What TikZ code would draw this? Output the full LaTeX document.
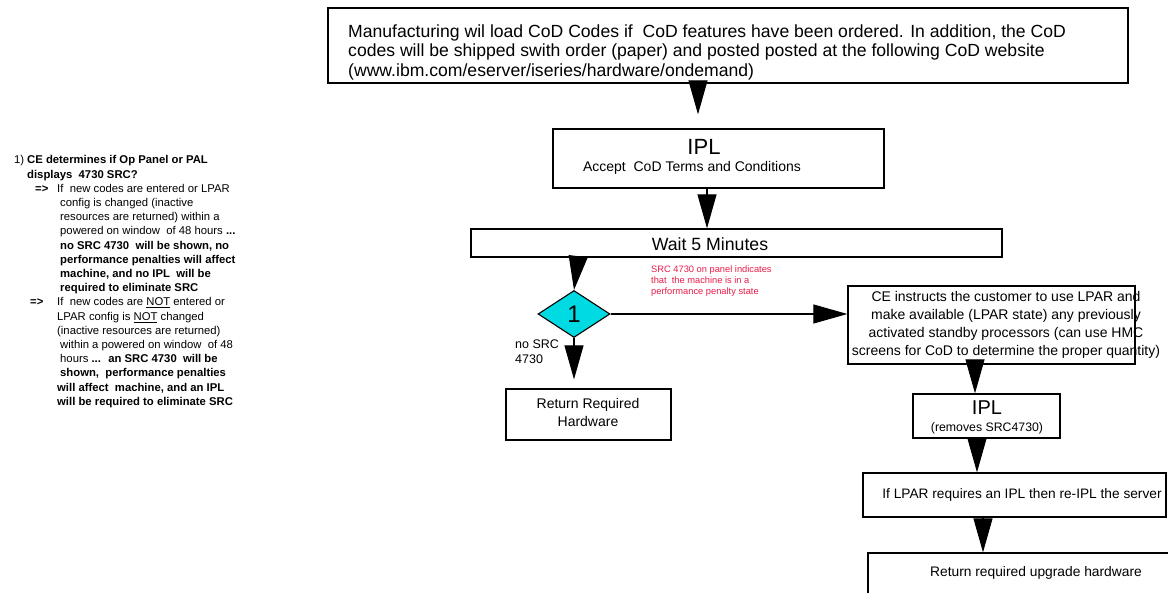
\documentclass[tikz,border=0pt]{standalone}
\usepackage{fontspec}
\setmainfont{Liberation Sans}
\usetikzlibrary{shapes.geometric,arrows.meta}
\definecolor{diafill}{RGB}{0,218,226}
\definecolor{notered}{RGB}{232,28,72}

\begin{document}
\begin{tikzpicture}[x=1pt,y=-1pt,
  box/.style={draw=black,line width=1.3pt,fill=white,inner sep=0pt},
  flow/.style={line width=1.1pt,-{Triangle[length=34pt,width=19pt]}},
  txt/.style={inner sep=0pt,font=#1},
  ltxt/.style={inner sep=0pt,anchor=base west,font=\fontsize{11.3}{13}\selectfont},
  ]
\useasboundingbox (0,0) rectangle (1168,593);
\clip (0,0) rectangle (1168,593);

% ---- boxes ----
\node[box,minimum width=800pt,minimum height=75pt] (top) at (728,45.5) {};
\node[box,minimum width=331pt,minimum height=59pt] (ipl1) at (718.5,158.5) {};
\node[box,minimum width=531pt,minimum height=28pt] (wait) at (736.5,243) {};
\node[draw=black,line width=1.1pt,fill=diafill,diamond,inner sep=0pt,
      minimum width=72pt,minimum height=47pt] (dia) at (574,314) {};
\node[box,minimum width=165pt,minimum height=51pt] (ret1) at (588.5,414.5) {};
\node[box,minimum width=287pt,minimum height=78pt] (ce) at (991.5,325) {};
\node[box,minimum width=147pt,minimum height=44pt] (ipl2) at (986.5,416) {};
\node[box,minimum width=303pt,minimum height=44pt] (lpar) at (1014.5,495) {};
\node[box,minimum width=332pt,minimum height=67pt] (ret2) at (1034,586.5) {};

% ---- box texts ----
\node[txt=\fontsize{17.6}{19.5}\selectfont,anchor=west,align=left] (toptext) at (348,52)
  {Manufacturing wil load CoD Codes if \ CoD features have been ordered. In addition, the CoD\\
   codes will be shipped swith order (paper) and posted posted at the following CoD website\\
   (www.ibm.com/eserver/iseries/hardware/ondemand)};
\node[txt=\fontsize{22}{25}\selectfont] (ipltitle) at (704,147) {IPL};
\node[txt=\fontsize{14}{16}\selectfont] (iplsub) at (692,168) {Accept \ CoD Terms and Conditions};
\node[txt=\fontsize{17.7}{20}\selectfont] (waittext) at (710,244) {Wait 5 Minutes};
\node[txt=\fontsize{24}{27}\selectfont] (onetext) at (dia.center) {1};
\node[txt=\fontsize{12.5}{15}\selectfont,anchor=west,align=left] (nosrc) at (515,352) {no SRC\\4730};
\node[txt=\fontsize{14}{18}\selectfont,align=center] (ret1text) at (588,412) {Return Required\\Hardware};
\node[txt=\fontsize{9.3}{10.7}\selectfont,anchor=west,align=left,text=notered] (penalty) at (651,281)
  {SRC 4730 on panel indicates\\that \ the machine is in a\\performance penalty state};
\node[txt=\fontsize{14}{18}\selectfont,align=center] (cetext) at (1006,325)
  {CE instructs the customer to use LPAR and\\
   make available (LPAR state) any previously\\
   activated standby processors (can use HMC\\
   screens for CoD to determine the proper quantity)};
\node[txt=\fontsize{20}{23}\selectfont] (ipl2title) at (987,408) {IPL};
\node[txt=\fontsize{12.3}{14}\selectfont] (ipl2sub) at (987,428) {(removes SRC4730)};
\node[txt=\fontsize{13.7}{16}\selectfont] (lpartext) at (1022,495) {If LPAR requires an IPL then re-IPL the server};
\node[txt=\fontsize{13.8}{16}\selectfont] (ret2text) at (1036,573) {Return required upgrade hardware};

% ---- connectors ----
\draw[flow,shorten >=14pt] ([xshift=-30pt]top.south) -- ([xshift=-20.5pt]ipl1.north);
\draw[flow] ([xshift=-11.5pt]ipl1.south) -- ([xshift=-29.5pt]wait.north);
\draw[flow] ([xshift=-158.5pt]wait.south) -- (dia.north);
\draw[flow,shorten >=9pt] (dia.south) -- ([xshift=-14.5pt]ret1.north);
\draw[flow] (dia.east) -- ([yshift=11pt]ce.west);
\draw[flow] ([xshift=-16.5pt]ce.south) -- ([xshift=-11.5pt]ipl2.north);
\draw[flow] ([xshift=-9.5pt]ipl2.south) -- ([xshift=-37.5pt]lpar.north);
\draw[flow] ([xshift=-31.5pt]lpar.south) -- ([xshift=-51pt]ret2.north);

% ---- side notes ----
\node[ltxt] (n0a) at (14,164) {1)};
\node[ltxt] (n0b) at (27,164) {\bfseries CE determines if Op Panel or PAL};
\node[ltxt] (n1) at (27,178.2) {\bfseries displays \ 4730 SRC?};
\node[ltxt] (n2a) at (35,192.4) {\bfseries =>};
\node[ltxt] (n2b) at (57,192.4) {If \ new codes are entered or LPAR};
\node[ltxt] (n3) at (60,206.6) {config is changed (inactive};
\node[ltxt] (n4) at (60,220.8) {resources are returned) within a};
\node[ltxt] (n5) at (60,235) {powered on window \ of 48 hours \textbf{...}};
\node[ltxt] (n6) at (60,249.2) {\bfseries no SRC 4730 \ will be shown, no};
\node[ltxt] (n7) at (60,263.4) {\bfseries performance penalties will affect};
\node[ltxt] (n8) at (60,277.6) {\bfseries machine, and no IPL \ will be};
\node[ltxt] (n9) at (60,291.8) {\bfseries required to eliminate SRC};
\node[ltxt] (n10a) at (30,306) {\bfseries =>};
\node[ltxt] (n10b) at (57,306) {If \ new codes are \underline{NOT} entered or};
\node[ltxt] (n11) at (57,320.2) {LPAR config is \underline{NOT} changed};
\node[ltxt] (n12) at (57,334.4) {(inactive resources are returned)};
\node[ltxt] (n13) at (60,348.6) {within a powered on window \ of 48};
\node[ltxt] (n14) at (60,362.8) {hours \textbf{... \ an SRC 4730 \ will be}};
\node[ltxt] (n15) at (60,377) {\bfseries shown, \ performance penalties};
\node[ltxt] (n16) at (57,391.2) {\bfseries will affect \ machine, and an IPL};
\node[ltxt] (n17) at (57,405.4) {\bfseries will be required to eliminate SRC};
\end{tikzpicture}
\end{document}
